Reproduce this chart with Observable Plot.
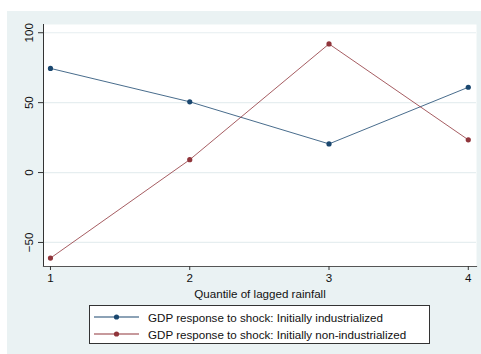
<!DOCTYPE html>
<html>
<head>
<meta charset="utf-8">
<script src="https://cdn.jsdelivr.net/npm/d3@7"></script>
<script src="https://cdn.jsdelivr.net/npm/@observablehq/plot@0.6"></script>
<style>
  html, body { margin: 0; padding: 0; background: #ffffff; }
  body { width: 481px; height: 354px; position: relative; overflow: hidden;
         font-family: "Liberation Sans", Arial, sans-serif; }
  #region { position: absolute; left: 7px; top: 11px; width: 474px; height: 343px; background: #eaf2f3; }
  #chart { position: absolute; left: 0; top: 0; }
  #legend { position: absolute; left: 82px; top: 294px; width: 339px; height: 37px;
            background: #ffffff; border: 1px solid #333333; }
  .row { position: absolute; left: 0; height: 16px; display: flex; align-items: center; }
  .row svg { display: block; margin-left: 4px; }
  .row span { margin-left: 9px; font-size: 11.6px; color: #111; white-space: nowrap; }
</style>
</head>
<body>
<div id="region">
  <div id="chart"></div>
  <div id="legend"></div>
</div>
<script>
// Quantiles of lagged rainfall and the GDP response in each group
const quantiles = [1, 2, 3, 4];
const industrialized = [74.5, 50.6, 20.5, 61.0];
const nonIndustrialized = [-61.2, 9.2, 92.0, 23.4];
const seriesNames = [
  "GDP response to shock: Initially industrialized",
  "GDP response to shock: Initially non-industrialized"
];
const seriesColors = ["#1a476f", "#90353b"];
const yTicks = [-50, 0, 50, 100];
const xTitle = "Quantile of lagged rainfall";

const rows = [
  ...quantiles.map((q, i) => ({q, v: industrialized[i], s: seriesNames[0]})),
  ...quantiles.map((q, i) => ({q, v: nonIndustrialized[i], s: seriesNames[1]}))
];

const chart = Plot.plot({
  width: 474,
  height: 343,
  marginLeft: 36,
  marginRight: 5,
  marginTop: 13,
  marginBottom: 88,
  style: {background: "transparent", fontFamily: "'Liberation Sans', Arial, sans-serif", fontSize: "11.6px", color: "#111"},
  x: {domain: [0.95, 4.059]},
  y: {domain: [-67.2, 105.9]},
  color: {domain: seriesNames, range: seriesColors},
  marks: [
    Plot.frame({fill: "#ffffff", stroke: null}),
    Plot.gridY(yTicks, {stroke: "#e6eef0", strokeOpacity: 1, strokeWidth: 1.2}),
    Plot.frame({anchor: "left", stroke: "#333333"}),
    Plot.frame({anchor: "bottom", stroke: "#555555", strokeWidth: 1.2}),
    Plot.axisY({ticks: yTicks, tickSize: 5, tickRotate: -90, tickPadding: 6, tickFormat: "d", label: null, stroke: "#333"}),
    Plot.axisX({ticks: quantiles, tickSize: 4, tickPadding: 3, tickFormat: "d", label: null, stroke: "#333"}),
    Plot.text([xTitle], {frameAnchor: "bottom", lineAnchor: "top", dy: 23, fill: "#111", fontSize: 11.6}),
    Plot.line(rows, {x: "q", y: "v", z: "s", stroke: "s", strokeWidth: 1, strokeOpacity: 0.8}),
    Plot.dot(rows, {x: "q", y: "v", fill: "s", r: 2.6, stroke: null})
  ]
});
document.getElementById("chart").appendChild(chart);

// Legend below the plot: line-and-marker swatch plus series label
const legend = d3.select("#legend");
seriesNames.forEach((name, i) => {
  const row = legend.append("div").attr("class", "row").style("top", (i === 0 ? 3 : 20) + "px");
  const sw = row.append("svg").attr("width", 45).attr("height", 16);
  sw.append("line").attr("x1", 0).attr("x2", 45).attr("y1", 8).attr("y2", 8)
    .attr("stroke", seriesColors[i]).attr("stroke-width", 1.1);
  sw.append("circle").attr("cx", 22.5).attr("cy", 8).attr("r", 2.6).attr("fill", seriesColors[i]);
  row.append("span").text(name);
});
</script>
</body>
</html>
